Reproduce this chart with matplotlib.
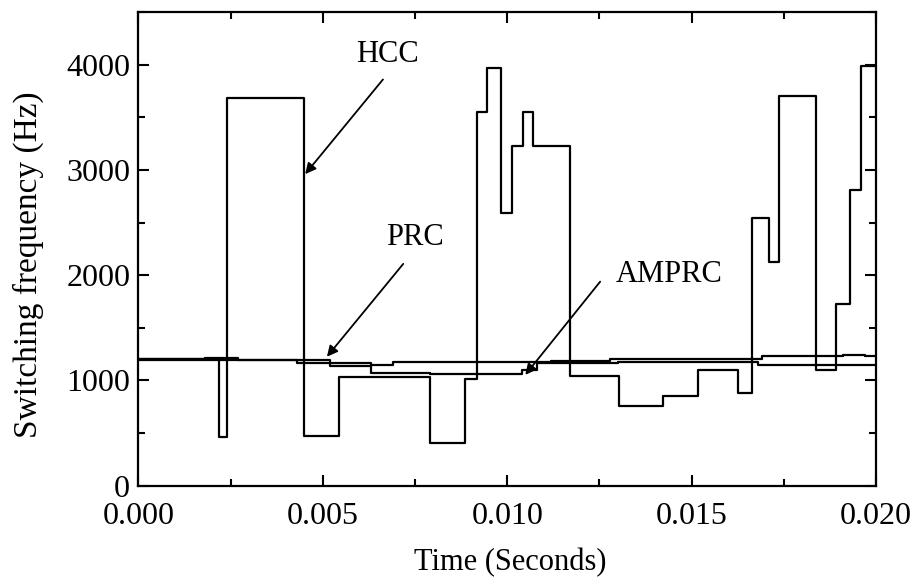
import matplotlib
matplotlib.use("Agg")
import matplotlib.pyplot as plt
from matplotlib.ticker import MultipleLocator, FormatStrFormatter

# step edges (s) and switching frequency (Hz)
hcc_t = [0, 0.00217, 0.00241, 0.00449, 0.00545, 0.00791, 0.00886, 0.00918,
         0.00946, 0.00983, 0.01012, 0.01044, 0.01071, 0.01171, 0.01302,
         0.01422, 0.01516, 0.01627, 0.01665, 0.01711, 0.01738, 0.01837,
         0.01892, 0.0193, 0.0196, 0.020]
hcc_f = [1200, 465, 3680, 470, 1035, 405, 1015, 3555, 3965, 2590, 3225, 3555,
         3225, 1040, 757, 848, 1100, 880, 2540, 2122, 3700, 1100, 1730, 2808,
         3985, 3985]

prc_t = [0, 0.0018, 0.0027, 0.0052, 0.0063, 0.0069, 0.0112, 0.0128, 0.0169,
         0.0191, 0.0197, 0.020]
prc_f = [1200, 1215, 1195, 1160, 1150, 1175, 1185, 1205, 1228, 1245, 1232,
         1232]

amprc_t = [0, 0.0043, 0.0052, 0.0063, 0.0079, 0.0104, 0.0108, 0.0130, 0.0152,
           0.0168, 0.020]
amprc_f = [1195, 1165, 1135, 1068, 1060, 1100, 1162, 1178, 1170, 1142, 1142]

plt.rcParams['font.family'] = ['Liberation Serif', 'DejaVu Serif']

fig = plt.figure(figsize=(9.16, 5.78), dpi=100)
ax = fig.add_axes([0.1512, 0.160, 0.8051, 0.819])

ax.step(hcc_t, hcc_f, where='post', color='black', lw=1.6)
ax.step(prc_t, prc_f, where='post', color='black', lw=1.6)
ax.step(amprc_t, amprc_f, where='post', color='black', lw=1.6)

ax.set_xlim(0, 0.020)
ax.set_ylim(0, 4500)
ax.xaxis.set_major_locator(MultipleLocator(0.005))
ax.xaxis.set_minor_locator(MultipleLocator(0.0025))
ax.yaxis.set_major_locator(MultipleLocator(1000))
ax.yaxis.set_minor_locator(MultipleLocator(500))
ax.xaxis.set_major_formatter(FormatStrFormatter('%.3f'))
ax.tick_params(which='both', direction='in', top=True, right=True,
               labelsize=23, width=1.5)
ax.tick_params(axis='x', which='major', pad=12)
ax.tick_params(axis='y', which='major', pad=6)
ax.tick_params(which='major', length=8)
ax.tick_params(which='minor', length=5)
for sp in ax.spines.values():
    sp.set_linewidth(1.6)

ax.set_xlabel("Time (Seconds)", fontsize=22)
ax.xaxis.set_label_coords(0.504, -0.132)
ax.set_ylabel("Switching frequency (Hz)", fontsize=24)
ax.yaxis.set_label_coords(-0.15, 0.466)
ax.yaxis.label.set_va('center')

arrow = dict(arrowstyle='-|>', color='black', lw=1.3, mutation_scale=16,
             shrinkA=0, shrinkB=0)
ax.annotate("", xy=(0.00452, 2960), xytext=(0.00663, 3860), arrowprops=arrow)
ax.text(0.00674, 4100, "HCC", fontsize=22, ha='center', va='center')
ax.annotate("", xy=(0.00511, 1224), xytext=(0.00718, 2107), arrowprops=arrow)
ax.text(0.0075, 2360, "PRC", fontsize=22, ha='center', va='center')
ax.annotate("", xy=(0.01049, 1052), xytext=(0.01252, 1938), arrowprops=arrow)
ax.text(0.01439, 2010, "AMPRC", fontsize=22, ha='center', va='center')

fig.savefig("out.png", dpi=100)
